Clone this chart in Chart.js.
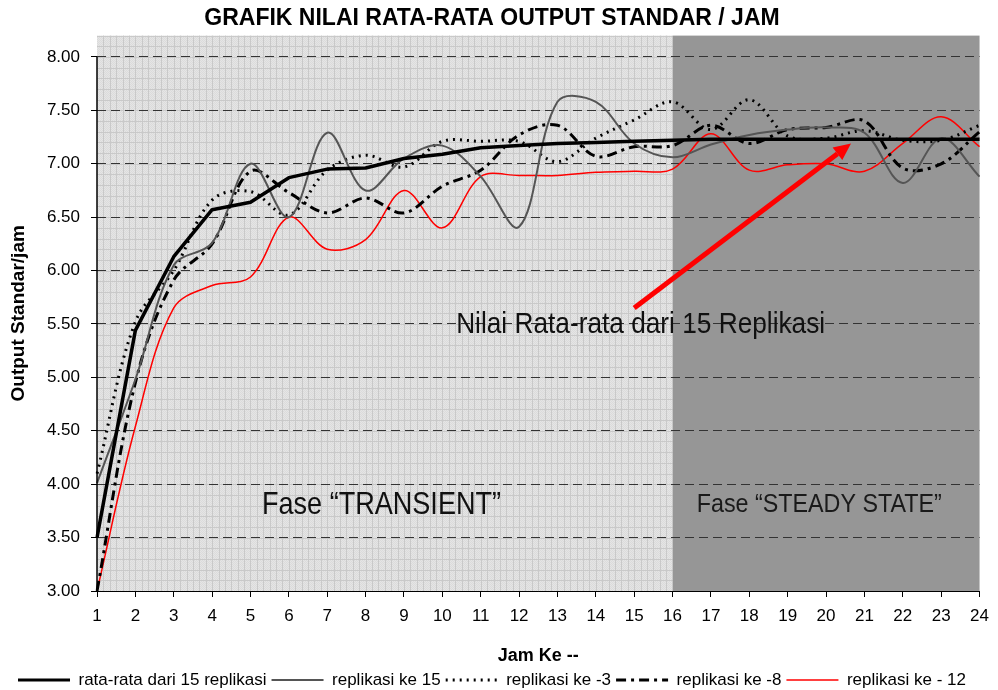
<!DOCTYPE html>
<html><head><meta charset="utf-8">
<script src="https://cdn.jsdelivr.net/npm/chart.js@4.4.1/dist/chart.umd.min.js"></script>
<style>html,body{margin:0;padding:0;background:#fff;overflow:hidden}</style>
</head><body>
<canvas id="chart" width="998" height="690" style="display:block;width:998px;height:690px"></canvas>
<script>
// ---------- data ----------
const hours = ['1','2','3','4','5','6','7','8','9','10','11','12','13','14','15','16','17','18','19','20','21','22','23','24'];
const rataRata15  = [3.50,5.44,6.13,6.57,6.64,6.87,6.95,6.96,7.05,7.09,7.15,7.17,7.19,7.20,7.21,7.22,7.23,7.23,7.23,7.23,7.23,7.23,7.23,7.23];
const replikasi15 = [4.01,4.98,6.05,6.26,7.00,6.50,7.29,6.75,7.05,7.17,6.88,6.41,7.58,7.58,7.19,7.06,7.18,7.27,7.32,7.34,7.29,6.82,7.24,6.88];
const replikasi3  = [4.10,5.52,6.00,6.66,6.74,6.52,6.94,7.08,6.97,7.21,7.21,7.21,7.02,7.24,7.41,7.58,7.32,7.60,7.26,7.24,7.31,7.22,7.22,7.36];
const replikasi8  = [3.00,4.95,5.91,6.25,6.93,6.73,6.54,6.68,6.54,6.79,6.94,7.27,7.36,7.07,7.16,7.17,7.36,7.19,7.32,7.34,7.40,6.96,7.00,7.30];
const replikasi12 = [3.00,4.54,5.65,5.86,5.94,6.50,6.20,6.29,6.75,6.40,6.88,6.89,6.89,6.92,6.93,6.95,7.28,6.94,6.99,7.00,6.93,7.19,7.44,7.16];
const yTickValues = [3.00,3.50,4.00,4.50,5.00,5.50,6.00,6.50,7.00,7.50,8.00];
const seriesNames = ['rata-rata dari 15 replikasi','replikasi ke 15','replikasi ke -3','replikasi ke -8','replikasi ke - 12'];
const steadyStartHour = '16';
const chartTitle = 'GRAFIK NILAI RATA-RATA OUTPUT STANDAR / JAM';
const arrowLabel = 'Nilai Rata-rata dari 15 Replikasi';
const transientLabel = 'Fase \u201CTRANSIENT\u201D';
const steadyLabel = 'Fase \u201CSTEADY STATE\u201D';

const SANS = "'Liberation Sans', Arial, sans-serif";

// ---------- background plugin ----------
function makeDither() {
  const c = document.createElement('canvas');
  c.width = 2; c.height = 2;
  const g = c.getContext('2d');
  g.fillStyle = '#e5e5e5'; g.fillRect(0,0,2,2);
  g.fillStyle = '#dbdbdb'; g.fillRect(0,0,1,1); g.fillRect(1,1,1,1);
  return c;
}
const bgPlugin = {
  id: 'phaseBackground',
  beforeDraw(chart) {
    const {ctx, chartArea: a, scales: {x, y}} = chart;
    const nIdx = hours.indexOf(steadyStartHour);
    const split = x.getPixelForValue(nIdx);
    ctx.save();
    ctx.fillStyle = ctx.createPattern(makeDither(), 'repeat');
    ctx.fillRect(a.left, a.top, split - a.left, a.bottom - a.top);
    ctx.strokeStyle = '#c9c9c9';
    ctx.lineWidth = 1;
    ctx.beginPath();
    for (let k = 1; k < nIdx * 6; k++) {
      const px = Math.round(x.getPixelForValue(k / 6)) + 0.5;
      ctx.moveTo(px, a.top); ctx.lineTo(px, a.bottom);
    }
    for (let k = 1; k <= 52; k++) {
      const py = Math.round(y.getPixelForValue(3 + k * 0.1)) + 0.5;
      if (py < a.top) break;
      ctx.moveTo(a.left, py); ctx.lineTo(split, py);
    }
    ctx.stroke();
    ctx.fillStyle = '#969696';
    ctx.fillRect(split, a.top, a.right - split, a.bottom - a.top);
    ctx.restore();
  }
};

// ---------- annotation plugin ----------
const annoPlugin = {
  id: 'annotations',
  afterDatasetsDraw(chart) {
    const {ctx, chartArea: a, scales: {x, y}} = chart;
    ctx.save();
    // y axis line (8.00 down to 3.00)
    ctx.strokeStyle = '#000'; ctx.lineWidth = 1.5;
    ctx.beginPath();
    ctx.moveTo(a.left, y.getPixelForValue(8)); ctx.lineTo(a.left, y.getPixelForValue(3));
    ctx.stroke();

    // red arrow
    const x0 = x.getPixelForValue(14.0), y0 = y.getPixelForValue(5.65);
    const x1 = x.getPixelForValue(19.65), y1 = y.getPixelForValue(7.19);
    const ang = Math.atan2(y1 - y0, x1 - x0);
    const head = 17, hw = 8;
    const bx = x1 - Math.cos(ang) * head, by = y1 - Math.sin(ang) * head;
    ctx.strokeStyle = '#ff0000'; ctx.fillStyle = '#ff0000';
    ctx.lineWidth = 5; ctx.lineCap = 'butt';
    ctx.beginPath(); ctx.moveTo(x0, y0); ctx.lineTo(bx, by); ctx.stroke();
    ctx.beginPath();
    ctx.moveTo(x1, y1);
    ctx.lineTo(bx + Math.sin(ang) * hw, by - Math.cos(ang) * hw);
    ctx.lineTo(bx - Math.sin(ang) * hw, by + Math.cos(ang) * hw);
    ctx.closePath(); ctx.fill();

    // texts
    ctx.textBaseline = 'middle'; ctx.textAlign = 'left';
    ctx.fillStyle = '#111';
    ctx.font = "30px " + SANS;
    ctx.fillText(arrowLabel, x.getPixelForValue(9.36), y.getPixelForValue(5.49), 369);
    ctx.font = "32px " + SANS;
    ctx.fillText(transientLabel, x.getPixelForValue(4.30), y.getPixelForValue(3.80), 239);
    ctx.fillStyle = '#1a1a1a';
    ctx.font = "25px " + SANS;
    ctx.fillText(steadyLabel, x.getPixelForValue(15.63), y.getPixelForValue(3.80), 245);
    ctx.restore();
  }
};

const common = { pointRadius: 0, pointHoverRadius: 0, fill: false, borderCapStyle: 'butt', borderJoinStyle: 'round' };

new Chart(document.getElementById('chart'), {
  type: 'line',
  data: {
    labels: hours,
    datasets: [
      Object.assign({ label: seriesNames[0], data: rataRata15, borderColor: '#000', backgroundColor: '#000', borderWidth: 3.5, tension: 0 }, common),
      Object.assign({ label: seriesNames[1], data: replikasi15, borderColor: '#555555', backgroundColor: '#555555', borderWidth: 2, tension: 0.35 }, common),
      Object.assign({ label: seriesNames[2], data: replikasi3, borderColor: '#000', backgroundColor: '#000', borderWidth: 3, borderDash: [2, 5], tension: 0.35 }, common),
      Object.assign({ label: seriesNames[3], data: replikasi8, borderColor: '#000', backgroundColor: '#000', borderWidth: 3, borderDash: [10, 5, 3, 5], tension: 0.35 }, common),
      Object.assign({ label: seriesNames[4], data: replikasi12, borderColor: '#ff0000', backgroundColor: '#ff0000', borderWidth: 1.5, tension: 0.35 }, common)
    ]
  },
  options: {
    responsive: false,
    animation: false,
    devicePixelRatio: 1,
    layout: { padding: { left: 0, right: 14, top: 0, bottom: 0 } },
    plugins: {
      title: {
        display: true, text: chartTitle, color: '#000',
        font: { family: SANS, size: 23, weight: 'bold' },
        padding: { top: 5, bottom: 3 }
      },
      legend: {
        position: 'bottom',
        maxHeight: 23.5,
        labels: {
          usePointStyle: true, pointStyle: 'line', pointStyleWidth: 52,
          color: '#000', padding: 5,
          font: { family: SANS, size: 17 },
          generateLabels(chart) {
            const items = Chart.defaults.plugins.legend.labels.generateLabels(chart);
            return items.map(it => {
              const ds = chart.data.datasets[it.datasetIndex];
              it.lineDash = ds.borderDash || [];
              it.lineWidth = Math.min(ds.borderWidth, 3);
              it.strokeStyle = ds.borderColor;
              return it;
            });
          }
        }
      },
      tooltip: { enabled: false }
    },
    scales: {
      x: {
        type: 'category',
        offset: false,
        grid: { drawOnChartArea: false, drawTicks: true, tickLength: 6, tickColor: '#000', tickWidth: 1 },
        border: { display: true, color: '#000', width: 1 },
        ticks: { color: '#000', font: { family: SANS, size: 17 }, padding: 9, maxRotation: 0, autoSkip: false },
        title: { display: true, text: 'Jam Ke --', color: '#000', font: { family: SANS, size: 18, weight: 'bold', lineHeight: 1 }, padding: { top: 0, bottom: 1 } },
        afterFit(scale) { scale.height = 75.5; }
      },
      y: {
        min: 3, max: 8.2,
        grid: { color: '#333', lineWidth: 1, drawTicks: true, tickLength: 6, tickColor: '#000', tickWidth: 1 },
        border: { display: false, dash: [9, 5] },
        afterBuildTicks(scale) { scale.ticks = yTickValues.map(v => ({ value: v })); },
        ticks: { color: '#000', font: { family: SANS, size: 17 }, padding: 11, callback: v => Number(v).toFixed(2) },
        title: { display: true, text: 'Output Standar/jam', color: '#000', font: { family: SANS, size: 19, weight: 'bold' }, padding: { top: 7, bottom: 0 } },
        afterFit(scale) { scale.width = 97; }
      }
    }
  },
  plugins: [bgPlugin, annoPlugin]
});
</script>
</body></html>
